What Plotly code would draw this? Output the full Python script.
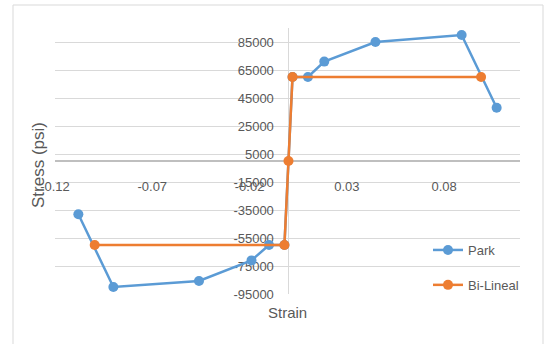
import plotly.graph_objects as go

# Park steel model (strain, stress in psi)
park_strain = [-0.108, -0.090, -0.046, -0.019, -0.010, -0.00207, 0.00207, 0.010, 0.0184, 0.0447, 0.089, 0.107]
park_stress = [-38000, -90000, -85700, -71000, -60000, -60000, 60000, 60000, 71000, 85000, 90000, 38000]

# Bi-linear (elastic-perfectly plastic) model
bil_strain = [-0.0996, -0.00207, 0.0, 0.00207, 0.099]
bil_stress = [-60000, -60000, 0, 60000, 60000]

x_ticks = [-0.12, -0.07, -0.02, 0.03, 0.08]
y_ticks = [-95000, -75000, -55000, -35000, -15000, 5000, 25000, 45000, 65000, 85000]

W, H = 547, 344
x_range = [-0.12, 0.119]
y_range = [-95000, 95000]

BLUE = "#5b9bd5"
ORANGE = "#ed7d31"
TXT = "#595959"
GRID = "#d9d9d9"
FONT = "Liberation Sans, Arial, sans-serif"

px_left, px_right, px_top, px_bottom = 55, 520, 28, 294
xdom = [px_left / W, px_right / W]
ydom = [(H - px_bottom) / H, (H - px_top) / H]

fig = go.Figure()
fig.add_trace(go.Scatter(
    x=park_strain, y=park_stress, mode="lines+markers", name="Park",
    line=dict(color=BLUE, width=2.5), marker=dict(size=10, color=BLUE),
    legendgroup="park",
))
fig.add_trace(go.Scatter(
    x=bil_strain, y=bil_stress, mode="lines+markers", name="Bi-Lineal",
    line=dict(color=ORANGE, width=2.5), marker=dict(size=10, color=ORANGE),
    legendgroup="bil",
))

# axes cross at the origin
x_pos_frac = ydom[0] + (0 - y_range[0]) / (y_range[1] - y_range[0]) * (ydom[1] - ydom[0])
y_pos_frac = xdom[0] + (0 - x_range[0]) / (x_range[1] - x_range[0]) * (xdom[1] - xdom[0])

fig.update_layout(
    width=W, height=H,
    margin=dict(l=0, r=0, t=0, b=0),
    paper_bgcolor="white", plot_bgcolor="white",
    font=dict(family=FONT, size=13, color=TXT),
    xaxis=dict(
        domain=xdom, range=x_range, anchor="free", position=x_pos_frac,
        tickmode="array", tickvals=x_ticks, ticktext=[f"{v:g}" for v in x_ticks],
        showgrid=False, zeroline=False, automargin=False, layer="below traces",
        showline=True, linecolor="#bfbfbf", linewidth=1.5,
        ticks="", ticklabelstandoff=14,
        tickfont=dict(family=FONT, size=13, color=TXT),
    ),
    yaxis=dict(
        domain=ydom, range=y_range, anchor="free", position=y_pos_frac,
        tickmode="array", tickvals=y_ticks, ticktext=[str(v) for v in y_ticks],
        showgrid=True, gridcolor=GRID, gridwidth=1, zeroline=False,
        automargin=False, layer="below traces",
        showline=True, linecolor=GRID, linewidth=1,
        ticks="", ticklabelstandoff=12,
        tickfont=dict(family=FONT, size=13, color=TXT),
    ),
    showlegend=True,
    legend=dict(
        x=428 / W, y=1 - 235 / H, xanchor="left", yanchor="top",
        bgcolor="rgba(0,0,0,0)", font=dict(family=FONT, size=13, color=TXT),
        itemwidth=30, traceorder="grouped", tracegroupgap=15,
    ),
    shapes=[dict(
        type="rect", xref="paper", yref="paper",
        x0=13 / W, x1=543 / W, y0=-0.05, y1=1 - 5 / H,
        line=dict(color=GRID, width=1), fillcolor="rgba(0,0,0,0)", layer="below",
    )],
    annotations=[
        dict(text="Stress (psi)", xref="paper", yref="paper",
             x=38 / W, y=1 - 165 / H, xanchor="center", yanchor="middle",
             showarrow=False, textangle=-90,
             font=dict(family=FONT, size=17, color=TXT)),
        dict(text="Strain", xref="paper", yref="paper",
             x=287 / W, y=1 - 312 / H, xanchor="center", yanchor="middle",
             showarrow=False,
             font=dict(family=FONT, size=15, color=TXT)),
    ],
)

fig.write_html("out.html")
